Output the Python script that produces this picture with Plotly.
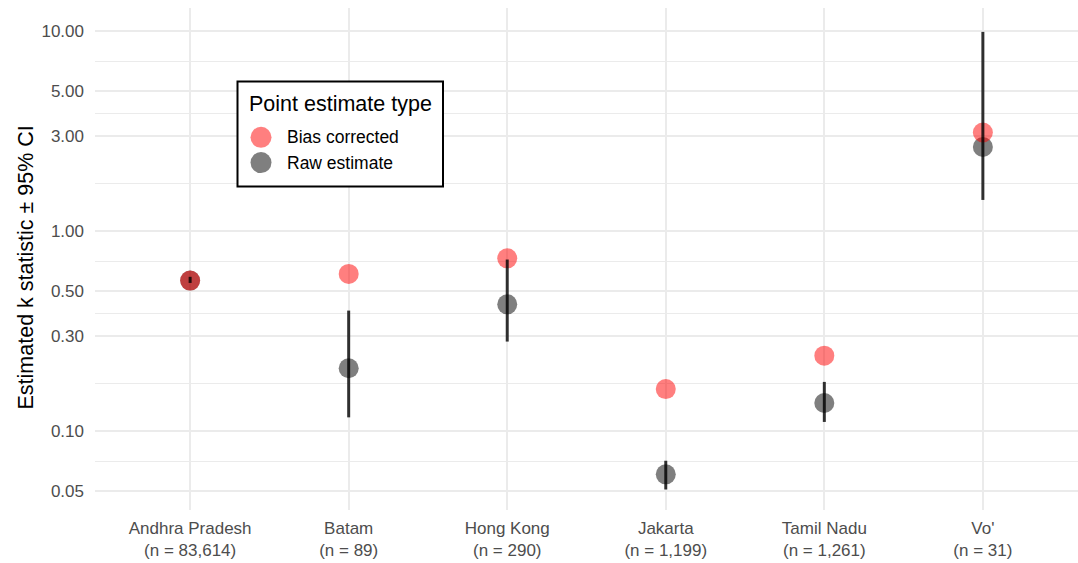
import plotly.graph_objects as go

# Data
locations = ["Andhra Pradesh", "Batam", "Hong Kong", "Jakarta", "Tamil Nadu", "Vo'"]
sample_n = ["83,614", "89", "290", "1,199", "1,261", "31"]
bias_corrected = [0.565, 0.61, 0.73, 0.162, 0.238, 3.11]
raw_estimate = [0.565, 0.206, 0.43, 0.0607, 0.138, 2.63]
ci_lower = [0.55, 0.117, 0.28, 0.051, 0.111, 1.43]
ci_upper = [0.59, 0.40, 0.72, 0.071, 0.176, 9.9]

y_tick_vals = [0.05, 0.1, 0.3, 0.5, 1, 3, 5, 10]
y_tick_text = ["0.05", "0.10", "0.30", "0.50", "1.00", "3.00", "5.00", "10.00"]
y_minor_vals = [(a * b) ** 0.5 for a, b in zip(y_tick_vals[:-1], y_tick_vals[1:])]

series_names = ["Bias corrected", "Raw estimate"]
series_colors = ["rgba(255,0,0,0.5)", "rgba(0,0,0,0.5)"]

x_labels = [f"{c}<br>(n = {n})" for c, n in zip(locations, sample_n)]

FONT = "Liberation Sans, Arial, Helvetica, sans-serif"

# plot area in pixels
W, H = 1078, 563
ML, MR, MT, MB = 95, 0, 8, 53
PW, PH = W - ML - MR, H - MT - MB


def px(x):
    return (x - ML) / PW


def py(y):
    return 1 - (y - MT) / PH


fig = go.Figure()
# raw first, bias corrected drawn on top
fig.add_trace(go.Scatter(
    x=locations, y=raw_estimate, mode="markers", name=series_names[1], showlegend=False,
    marker=dict(size=20, color=series_colors[1], line=dict(width=0)),
))
fig.add_trace(go.Scatter(
    x=locations, y=bias_corrected, mode="markers", name=series_names[0], showlegend=False,
    marker=dict(size=20, color=series_colors[0], line=dict(width=0)),
))
ci_x, ci_y = [], []
for c, lo, hi in zip(locations, ci_lower, ci_upper):
    ci_x += [c, c, None]
    ci_y += [lo, hi, None]
fig.add_trace(go.Scatter(
    x=ci_x, y=ci_y, mode="lines", showlegend=False, hoverinfo="skip",
    line=dict(color="rgba(0,0,0,0.8)", width=3),
))

# Legend box (drawn manually to match the reference styling)
shapes = [dict(
    type="rect", xref="paper", yref="paper", layer="above",
    x0=px(237.5), x1=px(443), y0=py(186.5), y1=py(81.5),
    line=dict(color="black", width=2), fillcolor="white",
)]
annotations = [dict(
    text="Point estimate type", xref="paper", yref="paper",
    x=px(247), y=py(104), xanchor="left", yanchor="middle", showarrow=False,
    font=dict(size=21.5, color="black", family=FONT),
)]
for i, (name, col) in enumerate(zip(series_names, series_colors)):
    cy = 137.3 + 25.3 * i
    shapes.append(dict(
        type="circle", xref="paper", yref="paper", layer="above",
        xsizemode="pixel", ysizemode="pixel", xanchor=px(261), yanchor=py(cy),
        x0=-10.5, x1=10.5, y0=-10.5, y1=10.5,
        fillcolor=col, line=dict(width=0),
    ))
    annotations.append(dict(
        text=name, xref="paper", yref="paper",
        x=px(284.5), y=py(cy), xanchor="left", yanchor="middle", showarrow=False,
        font=dict(size=17.5, color="black", family=FONT),
    ))

# y-axis title
annotations.append(dict(
    text="Estimated k statistic ± 95% CI", xref="paper", yref="paper",
    x=px(25), y=py(267.5), xanchor="center", yanchor="middle", showarrow=False,
    textangle=-90, font=dict(size=21.5, color="black", family=FONT),
))

fig.update_layout(
    width=W, height=H,
    margin=dict(l=ML, r=MR, t=MT, b=MB),
    paper_bgcolor="white", plot_bgcolor="white",
    font=dict(family=FONT, size=17, color="#4d4d4d"),
    showlegend=False,
    shapes=shapes, annotations=annotations,
    xaxis=dict(
        type="category", categoryorder="array", categoryarray=locations,
        tickvals=locations, ticktext=x_labels,
        range=[-0.6, 5.6], showgrid=True, gridcolor="#EBEBEB", gridwidth=2,
        zeroline=False, showline=False, ticks="", ticklabelstandoff=6,
        tickfont=dict(size=17, color="#4d4d4d"),
    ),
    yaxis=dict(
        type="log", range=[-1.395, 1.115],
        tickvals=y_tick_vals, ticktext=y_tick_text,
        showgrid=True, gridcolor="#EBEBEB", gridwidth=2,
        minor=dict(tickvals=y_minor_vals, showgrid=True, gridcolor="#EBEBEB", gridwidth=1, ticks=""),
        zeroline=False, showline=False, ticks="", ticklabelstandoff=10,
        tickfont=dict(size=17, color="#4d4d4d"),
    ),
)

fig.write_html("out.html")
